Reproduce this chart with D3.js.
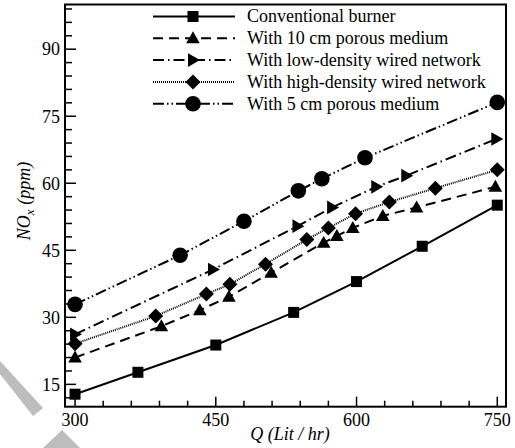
<!DOCTYPE html>
<html>
<head>
<meta charset="utf-8">
<script src="https://cdn.jsdelivr.net/npm/d3@7"></script>
<style>
html,body{margin:0;padding:0;background:#fff;}
svg{display:block;}
</style>
</head>
<body>
<svg id="chart" width="515" height="448"></svg>
<script>
// ---- data ----
const seriesNames = ["Conventional burner","With 10 cm porous medium","With low-density wired network","With high-density wired network","With 5 cm porous medium"];
const conventionalQ = [300, 367, 450, 533, 600, 670, 750];
const conventionalNOx = [12.8, 17.7, 23.8, 31.1, 38.0, 45.9, 55.1];
const porous10Q = [300, 392, 433, 464, 509, 565, 579, 596, 628, 664, 748];
const porous10NOx = [21.0, 28.0, 31.6, 34.6, 40.0, 46.7, 48.2, 50.0, 52.7, 54.6, 59.2];
const lowDensityQ = [300, 447, 537, 574, 621, 653, 749];
const lowDensityNOx = [26.2, 40.7, 50.4, 54.6, 59.2, 61.7, 69.9];
const highDensityQ = [300, 386, 440, 465, 503, 547, 570, 599, 635, 684, 750];
const highDensityNOx = [24.1, 30.3, 35.2, 37.4, 41.9, 47.4, 50.0, 53.2, 55.8, 58.9, 63.0];
const porous5Q = [300, 412, 480, 538, 563, 609, 750];
const porous5NOx = [32.9, 43.9, 51.5, 58.3, 61.0, 65.7, 78.1];
const xTicks = [300, 450, 600, 750];
const yTicks = [15, 30, 45, 60, 75, 90];

const FONT = "'Liberation Serif', 'Times New Roman', serif";
const svg = d3.select("#chart");
const L = 65, R = 506, T = 4.5, B = 406.7;
const x = d3.scaleLinear().domain([289.3, 759.3]).range([L, R]);
const y = d3.scaleLinear().domain([10, 100]).range([B, T]);

// watermark-like gray strokes
svg.append("polygon").attr("points","0,361 43,408 33,416 0,374").attr("fill","#bdbdbd");
svg.append("polygon").attr("points","62,430 43,448 80,448").attr("fill","#bdbdbd");

const series = [
  {q: conventionalQ, v: conventionalNOx, dash: null, sym: "square"},
  {q: porous10Q, v: porous10NOx, dash: "10,6", sym: "triangle"},
  {q: lowDensityQ, v: lowDensityNOx, dash: "11,4,1.5,4", sym: "right"},
  {q: highDensityQ, v: highDensityNOx, dash: "1,1", sym: "diamond"},
  {q: porous5Q, v: porous5NOx, dash: "11,3,1.5,3,1.5,3", sym: "circle"}
];

function drawMarker(g, sym, cx, cy) {
  if (sym === "square") {
    g.append("rect").attr("x", cx-5.5).attr("y", cy-5.5).attr("width", 11).attr("height", 11).attr("fill","#000");
  } else if (sym === "triangle") {
    g.append("path").attr("d", `M${cx},${cy-7} L${cx+6.8},${cy+5} L${cx-6.8},${cy+5} Z`).attr("fill","#000");
  } else if (sym === "right") {
    g.append("path").attr("d", `M${cx+7},${cy} L${cx-5},${cy-6.8} L${cx-5},${cy+6.8} Z`).attr("fill","#000");
  } else if (sym === "diamond") {
    g.append("path").attr("d", `M${cx},${cy-7.5} L${cx+7.5},${cy} L${cx},${cy+7.5} L${cx-7.5},${cy} Z`).attr("fill","#000");
  } else if (sym === "circle") {
    g.append("circle").attr("cx", cx).attr("cy", cy).attr("r", 7.8).attr("fill","#000");
  }
}

const line = d3.line().x(d => x(d[0])).y(d => y(d[1]));
const plot = svg.append("g");
series.forEach(s => {
  const pts = s.q.map((q,i) => [q, s.v[i]]);
  plot.append("path").attr("d", line(pts)).attr("fill","none").attr("stroke","#000")
    .attr("stroke-width", 2).attr("stroke-dasharray", s.dash);
  pts.forEach(p => drawMarker(plot, s.sym, x(p[0]), y(p[1])));
});

// axes ticks (inward)
const minorX = d3.range(330, 750, 30).filter(v => !xTicks.includes(v));
const minorY = d3.range(12, 100, 3).filter(v => !yTicks.includes(v));
const axG = svg.append("g").attr("stroke","#000").attr("stroke-width",1.5);
xTicks.forEach(v => axG.append("line").attr("x1",x(v)).attr("x2",x(v)).attr("y1",B).attr("y2",B-10));
minorX.forEach(v => axG.append("line").attr("x1",x(v)).attr("x2",x(v)).attr("y1",B).attr("y2",B-6));
yTicks.forEach(v => axG.append("line").attr("x1",L).attr("x2",L+11).attr("y1",y(v)).attr("y2",y(v)));
minorY.forEach(v => axG.append("line").attr("x1",L).attr("x2",L+7).attr("y1",y(v)).attr("y2",y(v)));

// frame
svg.append("rect").attr("x",L).attr("y",T).attr("width",R-L).attr("height",B-T)
  .attr("fill","none").attr("stroke","#000").attr("stroke-width",2);

// tick labels
svg.selectAll(".xt").data(xTicks).enter().append("text").attr("font-family", FONT)
  .attr("x", d => x(d)).attr("y", 426).attr("text-anchor","middle").attr("font-size",18).text(d => d);
svg.selectAll(".yt").data(yTicks).enter().append("text").attr("font-family", FONT)
  .attr("x", 60).attr("y", d => y(d)).attr("dy","0.35em").attr("text-anchor","end").attr("font-size",18).text(d => d);

// axis titles
const xt = svg.append("text").attr("x", 290).attr("y", 440).attr("text-anchor","middle").attr("font-family", FONT)
  .attr("font-size",18).attr("font-style","italic");
xt.text("Q (Lit / hr)");
const yt = svg.append("text").attr("transform","translate(30,201) rotate(-90)").attr("text-anchor","middle")
  .attr("font-family", FONT).attr("font-size",18).attr("font-style","italic");
yt.append("tspan").text("NO");
yt.append("tspan").attr("font-size",13).attr("dy",4).text("x");
yt.append("tspan").attr("dy",-4).text(" (ppm)");

// legend
const lg = svg.append("g");
series.forEach((s,i) => {
  const ly = 16.5 + i*21.8;
  lg.append("line").attr("x1",153).attr("x2",235).attr("y1",ly).attr("y2",ly)
    .attr("stroke","#000").attr("stroke-width",2).attr("stroke-dasharray", s.dash);
  drawMarker(lg, s.sym, 193, ly);
  lg.append("text").attr("x",247).attr("y",ly).attr("dy","0.33em").attr("font-family", FONT)
    .attr("font-size",18).text(seriesNames[i]);
});
</script>
</body>
</html>
